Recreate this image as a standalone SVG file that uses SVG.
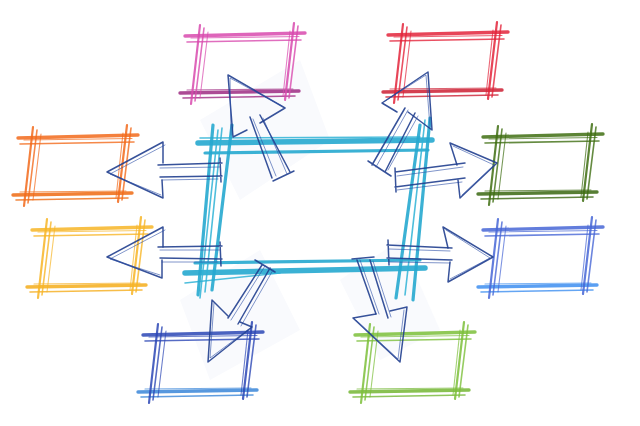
<svg xmlns="http://www.w3.org/2000/svg" xmlns:xlink="http://www.w3.org/1999/xlink" width="640" height="426" viewBox="0 0 640 426">
<style>
  .w3{stroke-width:3.4;stroke-opacity:.85}
  .w2{stroke-width:2.2;stroke-opacity:.85}
  .w15{stroke-width:1.6;stroke-opacity:.8}
  .w1{stroke-width:1.1;stroke-opacity:.7}
  path{fill:none;stroke-linecap:round;stroke-linejoin:round}
  .cy5{stroke:#26a9cf;stroke-width:5.5;stroke-opacity:.9}
  .cy3{stroke:#26a9cf;stroke-width:3.2;stroke-opacity:.9}
  .cy15{stroke:#2fb3d6;stroke-width:1.6;stroke-opacity:.85}
  .ar{stroke:#213f8f;stroke-width:1.5;stroke-opacity:.9}
  .ar2{stroke:#2b4ea6;stroke-width:1;stroke-opacity:.6}
  .paper{fill:#f9fafd;stroke:none}
</style>
<defs>
  <g id="box">
    <path class="w3" d="M-10,2 L110,-1"/>
    <path class="w15" d="M-8,8 L106,6"/>
    <path class="w1" d="M-4,4 L104,2.5"/>
    <path class="w3" stroke="currentColor" d="M-15,59 L104,57"/>
    <path class="w15" stroke="currentColor" d="M-12,64 L100,62"/>
    <path class="w1" stroke="currentColor" d="M-8,56 L98,55"/>
    <path class="w2" d="M5,-9 L-4,70"/>
    <path class="w15" d="M9,-6 L0,67"/>
    <path class="w1" d="M13,-2 L5,64"/>
    <path class="w2" d="M99,-11 L90,66"/>
    <path class="w15" d="M103,-8 L94,64"/>
    <path class="w1" d="M95,-3 L88,62"/>
  </g>
</defs>
<rect width="640" height="426" fill="#ffffff"/>
<g id="paper-shading">
  <polygon class="paper" points="200,120 300,60 330,140 240,200"/>
  <polygon class="paper" points="180,300 260,250 300,330 210,380"/>
  <polygon class="paper" points="340,280 400,240 440,330 380,360"/>
</g>

<g id="center">
  <path class="cy5" d="M198,143 L432,140"/>
  <path class="cy3" d="M205,153 L428,150"/>
  <path class="cy15" d="M200,138 L420,137"/>
  <path class="cy5" d="M185,273 L425,268"/>
  <path class="cy3" d="M195,263 L420,260"/>
  <path class="cy15" d="M185,283 L280,273"/>
  <path class="cy3" d="M213,125 L198,295"/>
  <path class="cy3" d="M232,125 L212,290"/>
  <path class="cy15" d="M222,128 L205,292"/>
  <path class="cy15" d="M218,130 L200,298"/>
  <path class="cy3" d="M430,118 L413,300"/>
  <path class="cy3" d="M420,125 L396,298"/>
  <path class="cy15" d="M425,120 L405,295"/>
</g>

<g id="node-pink"><use xlink:href="#box" x="195" y="34" stroke="#d84aae" color="#9e2b82"/></g>
<g id="node-red"><use xlink:href="#box" x="398" y="33" stroke="#e3243b" color="#cc1f33"/></g>
<g id="node-orange"><use xlink:href="#box" x="28" y="136" stroke="#f26a1b" color="#ee6a12"/></g>
<g id="node-yellow"><use xlink:href="#box" x="42" y="228" stroke="#f7b526" color="#f5ad1a"/></g>
<g id="node-darkgreen"><use xlink:href="#box" x="493" y="135" stroke="#3f6e12" color="#3a6710"/></g>
<g id="node-blue"><use xlink:href="#box" x="493" y="228" stroke="#4766d6" color="#3d8ef0"/></g>
<g id="node-navy"><use xlink:href="#box" x="153" y="333" stroke="#2c47b5" color="#3a86d8"/></g>
<g id="node-green"><use xlink:href="#box" x="365" y="333" stroke="#7cbf3a" color="#74b634"/></g>

<g id="connectors">
  <!-- left top arrow -->
  <path class="ar" d="M158,165 L222,163 M160,177 L222,176 M220,158 L221,182"/>
  <path class="ar2" d="M160,168 L220,167 M162,180 L218,179"/>
  <path class="ar" d="M163,163 L163,142 L107,172 L163,198 L162,180"/>
  <path class="ar2" d="M165,145 L110,174 L161,195"/>
  <!-- left low arrow -->
  <path class="ar" d="M158,247 L222,246 M160,258 L222,259 M220,242 L221,266"/>
  <path class="ar2" d="M160,250 L220,250 M162,262 L218,262"/>
  <path class="ar" d="M163,247 L163,227 L107,257 L162,278 L162,260"/>
  <path class="ar2" d="M165,230 L110,259 L160,275"/>
  <!-- right top arrow -->
  <path class="ar" d="M395,172 L465,163 M395,187 L465,178 M395,168 L396,192"/>
  <path class="ar2" d="M397,176 L463,167 M397,190 L462,182"/>
  <path class="ar" d="M457,165 L450,143 L497,163 L460,198 L458,180"/>
  <path class="ar2" d="M453,146 L494,165 L462,195"/>
  <!-- right low arrow -->
  <path class="ar" d="M387,245 L452,248 M387,258 L452,260 M388,240 L389,265"/>
  <path class="ar2" d="M389,249 L450,251 M389,262 L450,263"/>
  <path class="ar" d="M448,248 L443,227 L493,257 L448,282 L450,262"/>
  <path class="ar2" d="M446,230 L490,258 L450,279"/>
  <!-- top left arrow (to pink) -->
  <path class="ar" d="M250,117 L272,178 M260,115 L290,172 M273,181 L294,171"/>
  <path class="ar2" d="M253,119 L276,176 M263,118 L287,174"/>
  <path class="ar" d="M247,130 L233,137 L228,75 L285,108 L260,123"/>
  <path class="ar2" d="M231,135 L230,78 L282,106"/>
  <!-- top right arrow (to red) -->
  <path class="ar" d="M405,108 L372,165 M415,113 L385,172 M368,161 L391,176"/>
  <path class="ar2" d="M408,110 L376,167 M418,116 L388,170"/>
  <path class="ar" d="M397,112 L382,103 L428,72 L432,130 L408,112"/>
  <path class="ar2" d="M385,101 L426,75 L430,127"/>
  <!-- bottom left arrow (to navy) -->
  <path class="ar" d="M262,265 L228,318 M270,268 L238,324 M255,260 L275,272"/>
  <path class="ar2" d="M265,266 L231,320 M273,270 L241,326"/>
  <path class="ar" d="M228,316 L212,300 L208,362 L252,327 L240,322"/>
  <path class="ar2" d="M214,303 L210,358 L249,329"/>
  <!-- bottom right arrow (to green) -->
  <path class="ar" d="M357,260 L376,314 M370,260 L388,318 M352,259 L374,257"/>
  <path class="ar2" d="M360,260 L379,314 M373,261 L391,317"/>
  <path class="ar" d="M376,314 L353,318 L400,362 L407,307 L390,311"/>
  <path class="ar2" d="M356,320 L398,359 L404,310"/>
</g>
</svg>
